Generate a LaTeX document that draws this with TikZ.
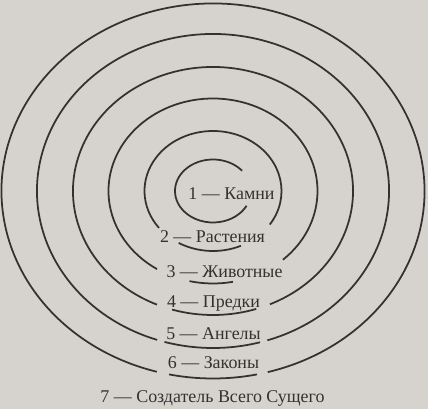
\documentclass[tikz,border=0pt]{standalone}
\usepackage{fontspec}
\setmainfont{Liberation Serif}
\definecolor{paper}{RGB}{214,210,205}
\definecolor{ink}{RGB}{52,50,48}
\begin{document}
\begin{tikzpicture}[ringline/.style={ink,line width=2.5pt},
    ringlabel/.style={ink,anchor=base,font=\fontsize{25.5}{30}\selectfont}]
        \fill[paper] (-10.65,-10.9) rectangle (10.75,9.55);
        \useasboundingbox (-10.65,-10.9) rectangle (10.75,9.55);
        %% Rings, open at the bottom
        \foreach \rx/\ry/\a/\b in {1.9/1.575/40/332,3.425/3.0/-34/218,5.225/4.625/-48/237.6,
                7.0/6.2/-66/246.4,8.8/7.85/-72/251.5,10.575/9.375/-75/254.6}
            \draw[ringline] (\a:\rx cm and \ry cm) arc[start angle=\a,end angle=\b,x radius=\rx cm,y radius=\ry cm];
        %% Bottom pieces under the labels
        \foreach \rx/\ry/\a/\b in {3.425/3.0/240/294,5.225/4.625/257/281,
                7.0/6.2/253/288,8.8/7.85/254/285.5,10.575/9.375/258/282}
            \draw[ringline] (\a:\rx cm and \ry cm) arc[start angle=\a,end angle=\b,x radius=\rx cm,y radius=\ry cm];
        %% Labels
        \foreach \n/\x/\y/\t in {1/0.925/-0.45/Камни,2/-0.025/-2.6/Растения,3/0.575/-4.35/Животные,
                4/0.025/-5.8/Предки,5/0.025/-7.4/Ангелы,6/0.025/-8.85/Законы,7/-0.025/-10.55/Создатель Всего Сущего}
            \node[ringlabel] (l\n) at (\x,\y) {\n~— \t};
    \end{tikzpicture}
\end{document}
